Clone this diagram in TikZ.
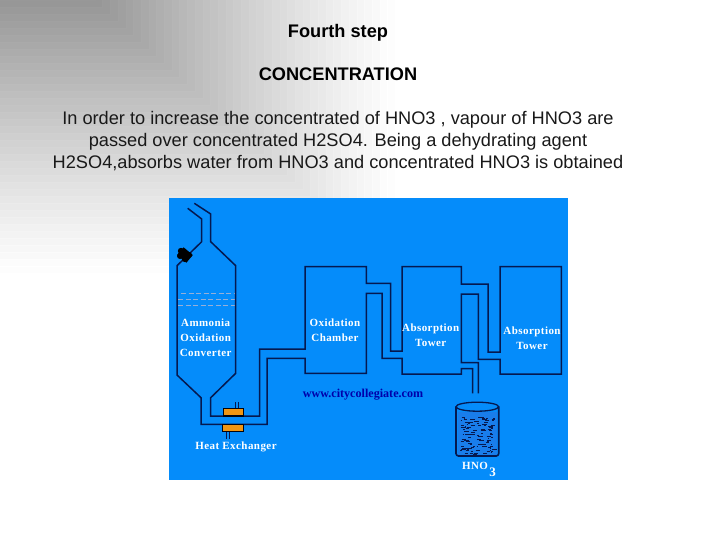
\documentclass[tikz,border=0pt]{standalone}
\usepackage{fontspec}
\setmainfont{Liberation Sans}
\newfontfamily\plantfont[LetterSpace=4]{Liberation Serif}
\newfontfamily\webfont{Liberation Serif}
\usepackage{xcolor}
\usetikzlibrary{positioning}
\definecolor{PanelBlue}{RGB}{5,140,250}
\definecolor{PipeNavy}{RGB}{5,25,80}
\definecolor{WebBlue}{RGB}{0,0,170}
\definecolor{HeatOrange}{RGB}{240,150,20}
\definecolor{BathBlue}{RGB}{25,125,235}
\definecolor{VapGrey}{RGB}{150,175,215}
\tikzset{
	pipe/.style={line width=1.5pt, draw=PipeNavy, line join=miter},
	stub/.style={line width=0.9pt, draw=PipeNavy},
	head/.style={font=\fontsize{18.2}{22}\selectfont\bfseries, inner sep=0pt},
	para/.style={font=\fontsize{18.2}{22}\selectfont, align=center, inner sep=0pt, text=black!90},
	lab/.style={font=\fontsize{11}{15}\selectfont\plantfont\bfseries, text=white, align=center, inner sep=0pt},
	heat/.style={line width=1.2pt, draw=black!80!PipeNavy, fill=HeatOrange},
	vap/.style={line width=1pt, draw=VapGrey, dash pattern=on 5pt off 2.5pt}
}
\begin{document}
\begin{tikzpicture}[x=1pt, y=-1pt, node distance=30pt]
	\useasboundingbox (0,0) rectangle (728,546);
	\fill[white] (0,0) rectangle (728,546);
	% stepped grey backdrop
	\foreach \t in {280,273,...,0} {
		\pgfmathsetmacro{\pct}{42*(1-\t/280)^1.15}
		\pgfmathsetmacro{\edge}{max(0,\pct-1.5)}
		\filldraw[fill=black!\pct!white, draw=black!\edge!white, line width=0.6pt] (-2,-2) rectangle ({95+1.1*\t},\t);
	}
	% heading
	\node[head] (title) at (338,33) {Fourth step};
	\node[head, below=26pt of title] (conc) {CONCENTRATION};
	\node[para, below=30pt of conc] (text) {In order to increase the concentrated of HNO3 , vapour of HNO3 are\\
		passed over concentrated H2SO4. Being a dehydrating agent\\
		H2SO4,absorbs water from HNO3 and concentrated HNO3 is obtained};
	% plant
	\fill[PanelBlue] (169,198) rectangle (568,480);
	\draw[vap] (181,293.7) -- (235,293.7);
	\draw[vap] (178,299) -- (235,299);
	\draw[vap] (178,305) -- (235,305);
	\draw[pipe] (187.7,208.3) -- (201.7,219) -- (201.7,241.7) -- (177,265.7) -- (177,375) -- (201,397.7) -- (201,424.3)
		-- (267,424.3) -- (267,358.3) -- (305,358.3) -- (305,373.3) -- (366.3,373.3) -- (366.3,293.3)
		-- (382,293.3) -- (382,358.3) -- (402,358.3) -- (402,374) -- (461.3,374) -- (461.3,368.7)
		-- (472.7,368.7) -- (472.7,393.3);
	\draw[pipe] (194.3,203.3) -- (210.7,214) -- (210.7,241.7) -- (235.7,265.7) -- (235.7,373.3) -- (210.7,397.7) -- (210.7,416)
		-- (259.7,416) -- (259.7,349) -- (305,349) -- (305,266.7) -- (366.3,266.7) -- (366.3,283.3)
		-- (390.7,283.3) -- (390.7,351) -- (402,351) -- (402,266.7) -- (461.3,266.7) -- (461.3,284)
		-- (488,284) -- (488,352) -- (500,352) -- (500,266.7) -- (561.3,266.7) -- (561.3,374)
		-- (500,374) -- (500,359.3) -- (478.3,359.3) -- (478.3,294) -- (461.3,294) -- (461.3,362.7)
		-- (478.3,362.7) -- (478.3,393.3);
	% burner
	\fill[black, rotate around={-40:(185,255)}] (179,250) rectangle (191,260);
	\fill[black] (181,251) circle (3.2pt) (185,259) circle (3.2pt) (189,255) circle (3pt) (180,256) circle (3pt);
	% heat exchanger
	\draw[stub] (235,402) -- (235,408.3) (238,402) -- (238,408.3);
	\draw[stub] (226,431.7) -- (226,438.5) (229,431.7) -- (229,438.5);
	\draw[heat] (223.3,408.3) rectangle (243.3,416);
	\draw[heat] (222.3,424.3) rectangle (243.3,431.7);
	% beaker
	\fill[BathBlue] (458,412) rectangle (497,455);
	\pgfmathsetseed{17}
	\foreach \i in {1,...,110} {
		\pgfmathsetmacro{\px}{460+33*rnd}
		\pgfmathsetmacro{\py}{416+38*rnd}
		\pgfmathsetmacro{\pw}{1+4*rnd}
		\draw[line width=0.35pt, PipeNavy] (\px,\py) -- ({\px+\pw},\py);
	}
	\draw[line width=1.6pt, draw=PipeNavy, rounded corners=2.5pt] (456,406.7) -- (456,456) -- (498.7,456) -- (498.7,406.7);
	\draw[line width=1.3pt, draw=PipeNavy] (477.3,406.7) ellipse (21.3pt and 4.5pt);
	% labels
	\node[lab] (conv) at (205.7,338) {Ammonia\\Oxidation\\Converter};
	\node[lab] (chamber) at (335,330) {Oxidation\\Chamber};
	\node[lab] (towera) at (430.7,335) {Absorption\\Tower};
	\node[lab] (towerb) at (532,338.5) {Absorption\\Tower};
	\node[lab] (exch) at (236,446.7) {Heat Exchanger};
	\node[font=\fontsize{12.1}{14}\selectfont\webfont\bfseries, text=WebBlue, inner sep=0pt] (web) at (363,395) {www.citycollegiate.com};
	\node[lab] (hno) at (475,466) {HNO};
	\node[lab, font=\fontsize{13}{13}\selectfont\webfont\bfseries] (three) at (492.7,472) {3};
\end{tikzpicture}
\end{document}
